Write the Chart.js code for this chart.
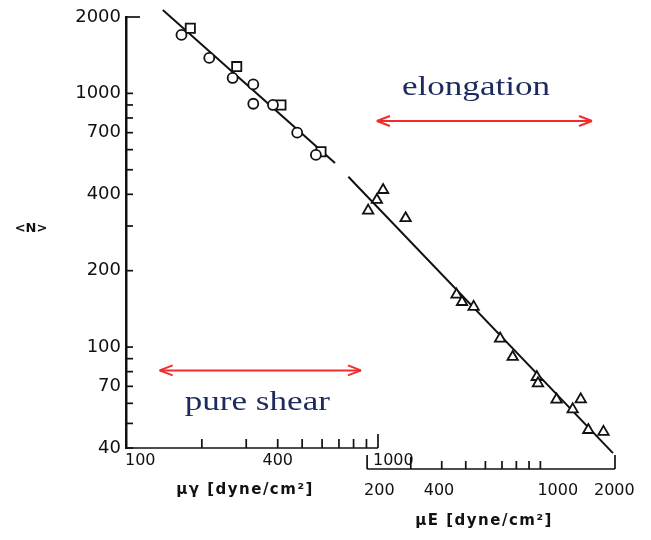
<!DOCTYPE html>
<html lang="no">
<head>
<meta charset="utf-8">
<title>&lt;N&gt; mot skjær- og strekkspenning</title>
<script src="https://cdn.jsdelivr.net/npm/chart.js@4.4.1/dist/chart.umd.min.js"></script>
<style>
  html, body { margin: 0; padding: 0; background: #fff; }
  canvas { display: block; }
</style>
</head>
<body>
<canvas id="graf" width="651" height="540"></canvas>
<script>
// ren skjær, mot μγ: sirkler og firkanter
const skjærSirkelX = [166, 214, 265, 320, 320, 383, 478, 567];
const skjærSirkelN = [1700, 1380, 1150, 1085, 910, 900, 700, 572];
const skjærFirkantX = [180, 275, 412, 594];
const skjærFirkantN = [1805, 1275, 900, 589];

// strekk, mot μE: trekanter
const strekkX = [232, 219, 202, 286, 459, 483, 538, 688, 773, 967, 978, 1162, 1455, 1350, 1561, 1797];
const strekkN = [416, 380, 345, 322, 161, 150.5, 144, 108, 91.4, 76.2, 71.9, 62.1, 62.2, 56.8, 47.1, 46.3];

// tilpassede linjer
const skjærLinjeX = [140, 675];
const skjærLinjeN = [2130, 532];
const strekkLinjeX = [168, 1963];
const strekkLinjeN = [469, 38.2];

// akser
const yTikker = [40, 70, 100, 200, 400, 700, 1000, 2000];
const ySmåTikker = [50, 60, 80, 90, 300, 500, 600, 800, 900];
const skjærTikker = [100, 200, 300, 400, 500, 600, 700, 800, 900, 1000];
const skjærEtiketter = ["100", "400", "1000"];
const strekkTikker = [200, 300, 400, 500, 600, 700, 800, 900, 1000, 2000];
const strekkEtiketter = ["200", "400", "1000", "2000"];

const svart = "#111111";
const rød = "#f22c2c";
const tekstBlå = "#1d2b5c";

function linje(ctx, xa, ya, xb, yb) {
  ctx.beginPath();
  ctx.moveTo(xa, ya);
  ctx.lineTo(xb, yb);
  ctx.stroke();
}

function dobbelPil(ctx, xa, xb, y) {
  linje(ctx, xa, y, xb, y);
  linje(ctx, xa, y, xa + 13, y - 5);
  linje(ctx, xa, y, xa + 13, y + 5);
  linje(ctx, xb, y, xb - 13, y - 5);
  linje(ctx, xb, y, xb - 13, y + 5);
}

function serifTekst(ctx, tekst, x, y) {
  ctx.save();
  ctx.translate(x, y);
  ctx.scale(1.3, 1);
  ctx.font = "27px 'Liberation Serif'";
  ctx.fillStyle = tekstBlå;
  ctx.textAlign = "center";
  ctx.textBaseline = "alphabetic";
  ctx.fillText(tekst, 0, 0);
  ctx.restore();
}

const aksePlugin = {
  id: "akser",
  afterDatasetsDraw(chart) {
    const ctx = chart.ctx;
    const { y, x1, x2 } = chart.scales;
    const område = chart.chartArea;
    ctx.save();
    ctx.strokeStyle = svart;
    ctx.fillStyle = svart;
    ctx.lineWidth = 1.7;

    // y-tikker, peker innover
    [...yTikker, ...ySmåTikker].forEach((v) => {
      const py = y.getPixelForValue(v);
      linje(ctx, område.left, py, område.left + (v === 2000 ? 14 : 7), py);
    });

    // μγ-aksen
    const bunn = område.bottom;
    linje(ctx, x1.getPixelForValue(100), bunn, x1.getPixelForValue(1000), bunn);
    skjærTikker.forEach((v) => {
      const px = x1.getPixelForValue(v);
      linje(ctx, px, bunn, px, bunn - (v === 1000 ? 14 : 9));
    });

    // μE-aksen
    const bunn2 = bunn + 21;
    linje(ctx, x2.getPixelForValue(200), bunn2, x2.getPixelForValue(2000), bunn2);
    strekkTikker.forEach((v) => {
      const px = x2.getPixelForValue(v);
      let lengde = 8;
      if (v === 200 || v === 2000) lengde = 14;
      if (v === 300) lengde = 12;
      linje(ctx, px, bunn2, px, bunn2 - lengde);
    });

    ctx.font = "16px 'DejaVu Sans'";
    ctx.textBaseline = "middle";
    skjærEtiketter.forEach((t) => {
      const px = x1.getPixelForValue(Number(t));
      if (t === "400") {
        ctx.textAlign = "center";
        ctx.fillText(t, px, bunn + 13);
      } else {
        ctx.textAlign = "left";
        ctx.fillText(t, px - (t === "1000" ? 5 : 1), bunn + 13);
      }
    });
    strekkEtiketter.forEach((t) => {
      const px = x2.getPixelForValue(Number(t));
      ctx.textAlign = "left";
      let dx = -3;
      if (t === "400") dx = -18;
      if (t === "2000") dx = -21;
      ctx.fillText(t, px + dx, bunn2 + 22);
    });

    // aksetitler
    ctx.font = "bold 15px 'DejaVu Sans'";
    ctx.letterSpacing = "1.5px";
    ctx.textAlign = "center";
    ctx.fillText("μγ [dyne/cm²]", 245, 490);
    ctx.fillText("μE [dyne/cm²]", 484, 521);
    ctx.letterSpacing = "0px";
    ctx.font = "bold 13px 'DejaVu Sans'";
    ctx.fillText("<N>", 31, 229);

    // piler og merknader
    ctx.strokeStyle = rød;
    ctx.lineWidth = 2;
    dobbelPil(ctx, x2.getPixelForValue(219), x2.getPixelForValue(1615), y.getPixelForValue(778));
    dobbelPil(ctx, x1.getPixelForValue(136), x1.getPixelForValue(856), y.getPixelForValue(80.9));
    serifTekst(ctx, "elongation", x2.getPixelForValue(550), y.getPixelForValue(985));
    serifTekst(ctx, "pure shear", x1.getPixelForValue(332), y.getPixelForValue(56.5));
    ctx.restore();
  },
};

function punkter(xs, ys) {
  return xs.map((x, i) => ({ x: x, y: ys[i] }));
}

function lagGraf() {
  const punktStil = {
    borderColor: svart,
    backgroundColor: "#ffffff",
    borderWidth: 1.8,
    showLine: false,
  };
  const linjeStil = {
    borderColor: svart,
    borderWidth: 2,
    pointRadius: 0,
    showLine: true,
    clip: 12,
  };

  const kontekst = document.getElementById("graf").getContext("2d");
  new Chart(kontekst, {
    type: "scatter",
    data: {
      datasets: [
        {
          ...punktStil,
          data: punkter(skjærSirkelX, skjærSirkelN),
          xAxisID: "x1",
          pointStyle: "circle",
          pointRadius: 5,
        },
        {
          ...punktStil,
          data: punkter(skjærFirkantX, skjærFirkantN),
          xAxisID: "x1",
          pointStyle: "rect",
          pointRadius: 6.5,
        },
        {
          ...punktStil,
          data: punkter(strekkX, strekkN),
          xAxisID: "x2",
          pointStyle: "triangle",
          pointRadius: 6,
        },
        { ...linjeStil, data: punkter(skjærLinjeX, skjærLinjeN), xAxisID: "x1" },
        { ...linjeStil, data: punkter(strekkLinjeX, strekkLinjeN), xAxisID: "x2" },
      ],
    },
    options: {
      responsive: false,
      animation: false,
      layout: { padding: { left: 0, top: 17, right: 36, bottom: 92 } },
      plugins: {
        legend: { display: false },
        tooltip: { enabled: false },
      },
      scales: {
        x1: { type: "logarithmic", axis: "x", position: "bottom", min: 100, max: 8720, display: false },
        x2: { type: "logarithmic", axis: "x", position: "bottom", min: 21.3, max: 2000, display: false },
        y: {
          type: "logarithmic",
          position: "left",
          min: 40,
          max: 2000,
          afterBuildTicks: (skala) => {
            skala.ticks = yTikker.map((v) => ({ value: v }));
          },
          afterFit: (skala) => {
            skala.width = 126;
          },
          grid: { display: false, drawTicks: false },
          border: { display: true, color: svart, width: 2.5 },
          ticks: {
            autoSkip: false,
            padding: 5,
            color: svart,
            font: { family: "'DejaVu Sans'", size: 18 },
            callback: (v) => String(v),
          },
        },
      },
    },
    plugins: [aksePlugin],
  });
}

window.addEventListener("DOMContentLoaded", lagGraf);
</script>
</body>
</html>
